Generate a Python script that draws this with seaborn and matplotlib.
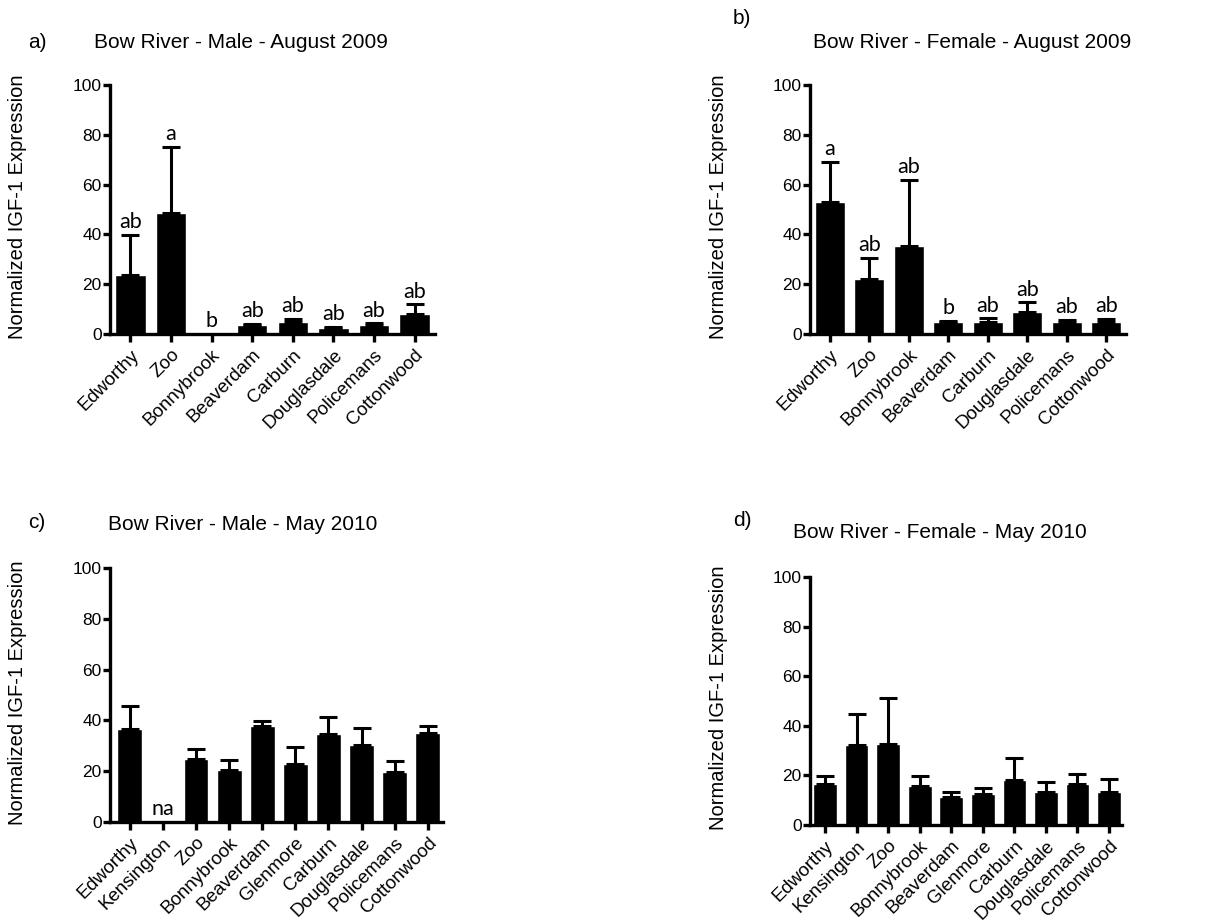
import numpy as np
import pandas as pd
import matplotlib
matplotlib.use("Agg")
import matplotlib.pyplot as plt
import seaborn as sns

# Sampling sites
sites_aug = ["Edworthy", "Zoo", "Bonnybrook", "Beaverdam", "Carburn",
             "Douglasdale", "Policemans", "Cottonwood"]
sites_may = ["Edworthy", "Kensington", "Zoo", "Bonnybrook", "Beaverdam",
             "Glenmore", "Carburn", "Douglasdale", "Policemans", "Cottonwood"]

# a) Male, August 2009 (mean and mean + SEM)
male_aug_mean = [23.6, 48.5, 0.0, 3.6, 4.7, 2.3, 3.6, 7.9]
male_aug_upper = [39.8, 75.2, 0.0, 4.0, 6.0, 3.0, 4.3, 11.9]
male_aug_letters = ["ab", "a", "b", "ab", "ab", "ab", "ab", "ab"]

# b) Female, August 2009
female_aug_mean = [53.1, 22.0, 35.3, 4.7, 4.7, 9.0, 4.7, 5.0]
female_aug_upper = [69.2, 30.7, 61.8, 5.2, 6.3, 12.7, 5.6, 6.0]
female_aug_letters = ["a", "ab", "ab", "b", "ab", "ab", "ab", "ab"]

# c) Male, May 2010 (no sample from Kensington)
male_may_mean = [36.6, None, 24.8, 20.3, 37.9, 23.0, 34.6, 30.2, 19.6, 35.0]
male_may_upper = [45.8, None, 28.7, 24.5, 39.9, 29.4, 41.2, 37.0, 24.1, 37.9]
male_may_letters = ["", "na", "", "", "", "", "", "", "", ""]

# d) Female, May 2010
female_may_mean = [16.4, 32.2, 32.6, 15.8, 11.1, 12.5, 18.1, 13.4, 16.4, 13.2]
female_may_upper = [19.7, 44.7, 51.4, 19.9, 13.2, 14.8, 27.1, 17.4, 20.5, 18.4]
female_may_letters = [""] * 10

y_ticks = [0, 20, 40, 60, 80, 100]
y_label = "Normalized IGF-1 Expression"

sns.set_style("ticks")
plt.rcParams["font.family"] = ["Liberation Sans", "DejaVu Sans"]
for key in ("text.color", "axes.labelcolor", "xtick.color", "ytick.color", "axes.edgecolor"):
    plt.rcParams[key] = "black"

W, H = 1217, 924
fig = plt.figure(figsize=(W / 100, H / 100), dpi=100)


def px_axes(left, top, right, bottom):
    return fig.add_axes([left / W, 1 - bottom / H, (right - left) / W, (bottom - top) / H])


def draw_panel(ax, sites, mean, upper, letters, xlim):
    df = pd.DataFrame({"site": sites, "value": mean}).dropna()
    sns.barplot(data=df, x="site", y="value", order=sites, color="black",
                saturation=1, width=0.75, errorbar=None, ax=ax, zorder=2)
    xs, ys, errs = [], [], []
    for i, (m, u) in enumerate(zip(mean, upper)):
        if m is None or u is None or u <= m:
            continue
        xs.append(i)
        ys.append(m)
        errs.append(u - m)
    ax.errorbar(xs, ys, yerr=[np.zeros(len(errs)), errs], fmt="none",
                ecolor="black", elinewidth=2.2, capsize=6.5, capthick=2.2, zorder=3)
    for i, lab in enumerate(letters):
        if not lab:
            continue
        top = upper[i] if upper[i] is not None else 0.0
        ax.annotate(lab, (i, top), xytext=(0, 2), textcoords="offset points",
                    ha="center", va="bottom", fontsize=15.5,
                    family=["Lato", "DejaVu Sans"])
    ax.set_xlim(*xlim)
    ax.set_ylim(0, 100)
    ax.set_yticks(y_ticks)
    ax.set_xlabel("")
    ax.set_ylabel("")
    sns.despine(ax=ax)
    for s in ("left", "bottom"):
        ax.spines[s].set_linewidth(2.4)
        ax.spines[s].set_color("black")
        ax.spines[s].set_zorder(4)
    ax.tick_params(axis="y", length=5, width=2.4, labelsize=12.5, pad=1, colors="black")
    ax.tick_params(axis="x", length=6, width=2.4, labelsize=13.5, pad=3, colors="black")
    plt.setp(ax.get_xticklabels(), rotation=45, ha="right", rotation_mode="anchor")


ax_a = px_axes(110, 85, 435, 334)
draw_panel(ax_a, sites_aug, male_aug_mean, male_aug_upper, male_aug_letters, (-0.5, 7.5))
ax_b = px_axes(810, 85, 1126, 334)
draw_panel(ax_b, sites_aug, female_aug_mean, female_aug_upper, female_aug_letters, (-0.5, 7.5))
ax_c = px_axes(110, 568, 443, 822)
draw_panel(ax_c, sites_may, male_may_mean, male_may_upper, male_may_letters, (-0.6, 9.46))
ax_d = px_axes(810, 577, 1122, 825)
draw_panel(ax_d, sites_may, female_may_mean, female_may_upper, female_may_letters, (-0.475, 9.41))


def ftext(x, y, s, **kw):
    fig.text(x / W, 1 - y / H, s, **kw)


title_kw = dict(fontsize=15, ha="left", va="center", color="black")
ftext(28, 42, "a)", **title_kw)
ftext(94, 42, "Bow River - Male - August 2009", **title_kw)
ftext(733, 19, "b)", **title_kw)
ftext(813, 43, "Bow River - Female - August 2009", **title_kw)
ftext(28, 523, "c)", **title_kw)
ftext(108, 525, "Bow River - Male - May 2010", **title_kw)
ftext(733, 521, "d)", **title_kw)
ftext(793, 533, "Bow River - Female - May 2010", **title_kw)

ylab_kw = dict(fontsize=14.5, rotation=90, ha="center", va="center", color="black")
ftext(18, 207, y_label, **ylab_kw)
ftext(718, 207, y_label, **ylab_kw)
ftext(18, 693, y_label, **ylab_kw)
ftext(718, 698, y_label, **ylab_kw)

fig.savefig("out.png", dpi=100, facecolor="white")
